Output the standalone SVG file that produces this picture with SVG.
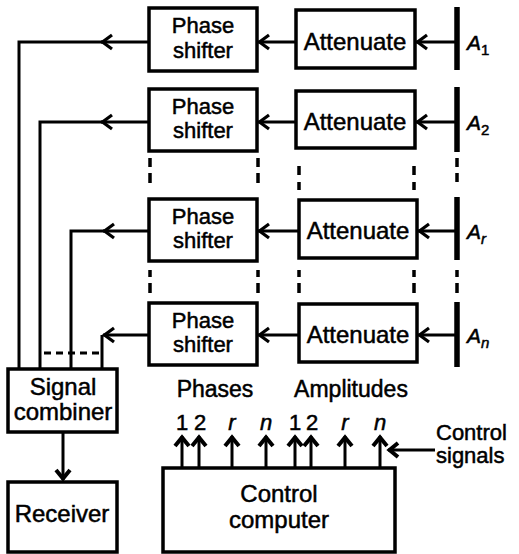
<svg xmlns="http://www.w3.org/2000/svg" width="519" height="554" viewBox="0 0 519 554">
<style>
.box{fill:#fff;stroke:#000;stroke-width:3.5}
.ln{fill:none;stroke:#000;stroke-width:3}
.dash{fill:none;stroke:#000;stroke-width:3.5}
.bar{stroke:#000;stroke-width:5.5;fill:none}
text{font-family:"Liberation Sans",Arial,sans-serif;fill:#000;stroke:#000;stroke-width:0.5}
.t22{font-size:22px;text-anchor:middle}
.t23{font-size:23px;text-anchor:middle}
.t24{font-size:24px;text-anchor:middle}
.lab{font-size:21px;font-style:italic}
.num{font-size:22px;text-anchor:middle}
.it{font-style:italic}
</style>
<defs>
<marker id="ah" viewBox="-14 -9 16 18" refX="0" refY="0" markerWidth="16" markerHeight="18" orient="auto" markerUnits="userSpaceOnUse">
<path d="M-11,-7 L-1.5,0 L-11,7" fill="none" stroke="#000" stroke-width="3.2"/>
</marker>
<marker id="ah2" viewBox="-14 -9 16 18" refX="0" refY="0" markerWidth="16" markerHeight="18" orient="auto" markerUnits="userSpaceOnUse">
<path d="M-10,-7 L-1.5,0 L-10,7" fill="none" stroke="#000" stroke-width="4"/>
</marker>
</defs>

<g id="antennas">
<path class="bar" d="M457,7 V70 M457,87 V152 M457,197 V260 M457,302 V367"/>
<path class="dash" d="M457,158 V167 M457,173 V182 M457,270 V277 M457,283 V293"/>
<text class="lab" x="467" y="50">A<tspan font-size="15" dy="5" font-style="normal">1</tspan></text>
<text class="lab" x="467" y="130">A<tspan font-size="15" dy="5" font-style="normal">2</tspan></text>
<text class="lab" x="467" y="239">A<tspan font-size="15" dy="5">r</tspan></text>
<text class="lab" x="467" y="343">A<tspan font-size="15" dy="5">n</tspan></text>
</g>

<g id="att1"><rect class="box" x="296" y="10" width="119" height="58"/><text class="t24" x="355" y="50">Attenuate</text></g>
<g id="att2"><rect class="box" x="296" y="91" width="119" height="57"/><text class="t24" x="355" y="130">Attenuate</text></g>
<g id="att3"><rect class="box" x="299" y="200" width="118" height="58"/><text class="t24" x="358" y="239">Attenuate</text></g>
<g id="att4"><rect class="box" x="299" y="304" width="118" height="58"/><text class="t24" x="358" y="343">Attenuate</text></g>

<g id="ps1"><rect class="box" x="149" y="8" width="108" height="63"/><text class="t22" x="203" y="33">Phase</text><text class="t22" x="203" y="58">shifter</text></g>
<g id="ps2"><rect class="box" x="149" y="89" width="108" height="62"/><text class="t22" x="203" y="114">Phase</text><text class="t22" x="203" y="138">shifter</text></g>
<g id="ps3"><rect class="box" x="149" y="199" width="108" height="62"/><text class="t22" x="203" y="224">Phase</text><text class="t22" x="203" y="248">shifter</text></g>
<g id="ps4"><rect class="box" x="149" y="303" width="108" height="62"/><text class="t22" x="203" y="328">Phase</text><text class="t22" x="203" y="352">shifter</text></g>

<g id="dots">
<path class="dash" d="M150,158 V167 M150,173 V183 M258,158 V167 M258,173 V183 M299,166 V175 M299,182 V190 M414,166 V175 M414,182 V190"/>
<path class="dash" d="M150,270 V277 M150,283 V293 M258,270 V277 M258,283 V293 M299,270 V277 M299,283 V293 M414,270 V277 M414,283 V293"/>
</g>

<g id="combiner"><rect class="box" x="8" y="369" width="109" height="63"/><text class="t24" x="63" y="395">Signal</text><text class="t24" x="63" y="420">combiner</text></g>
<g id="receiver"><rect class="box" x="8" y="482" width="109" height="70"/><text class="t24" x="62" y="522">Receiver</text></g>
<g id="computer"><rect class="box" x="163" y="468" width="232" height="84"/><text class="t24" x="279" y="502">Control</text><text class="t24" x="279" y="528">computer</text></g>

<g id="labels">
<text class="t23" x="215" y="397">Phases</text>
<text class="t23" x="351" y="397">Amplitudes</text>
<text class="num" x="182" y="430">1</text>
<text class="num" x="200" y="430">2</text>
<text class="num it" x="232" y="430">r</text>
<text class="num it" x="266" y="430">n</text>
<text class="num" x="295" y="430">1</text>
<text class="num" x="312" y="430">2</text>
<text class="num it" x="345" y="430">r</text>
<text class="num it" x="380" y="430">n</text>
<text x="436" y="440" font-size="22px">Control</text>
<text x="436" y="463" font-size="22px">signals</text>
</g>

<g id="connectors">
<path class="ln" d="M457,42 H416" marker-end="url(#ah)"/>
<path class="ln" d="M296,42 H258" marker-end="url(#ah)"/>
<path class="ln" d="M149,42 H101" marker-end="url(#ah)"/>
<path class="ln" d="M102,42 H19 V369"/>
<path class="ln" d="M457,122 H416" marker-end="url(#ah)"/>
<path class="ln" d="M296,122 H258" marker-end="url(#ah)"/>
<path class="ln" d="M149,122 H101" marker-end="url(#ah)"/>
<path class="ln" d="M102,122 H40 V369"/>
<path class="ln" d="M457,231 H418" marker-end="url(#ah)"/>
<path class="ln" d="M299,231 H258" marker-end="url(#ah)"/>
<path class="ln" d="M149,231 H103" marker-end="url(#ah)"/>
<path class="ln" d="M104,231 H71 V369"/>
<path class="ln" d="M457,335 H418" marker-end="url(#ah)"/>
<path class="ln" d="M299,335 H258" marker-end="url(#ah)"/>
<path class="ln" d="M149,335 H103" marker-end="url(#ah)"/>
<path class="ln" d="M102,335 V369"/>
<path class="ln" d="M44,353 H99" stroke-dasharray="7 5"/>
<path class="ln" d="M63,432 V480" marker-end="url(#ah2)"/>
<path class="ln" d="M182,468 V436" marker-end="url(#ah2)"/>
<path class="ln" d="M199,468 V436" marker-end="url(#ah2)"/>
<path class="ln" d="M232,468 V436" marker-end="url(#ah2)"/>
<path class="ln" d="M266,468 V436" marker-end="url(#ah2)"/>
<path class="ln" d="M295,468 V436" marker-end="url(#ah2)"/>
<path class="ln" d="M311,468 V436" marker-end="url(#ah2)"/>
<path class="ln" d="M345,468 V436" marker-end="url(#ah2)"/>
<path class="ln" d="M380,468 V436" marker-end="url(#ah2)"/>
<path class="ln" d="M435,450 H388" marker-end="url(#ah2)"/>
</g>
</svg>
